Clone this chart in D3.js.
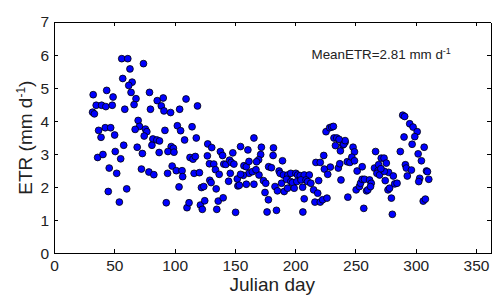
<!DOCTYPE html>
<html>
<head>
<meta charset="utf-8">
<script src="https://d3js.org/d3.v7.min.js"></script>
<style>
  body { margin: 0; background: #fff; }
  svg { display: block; font-family: Arial, "Liberation Sans", sans-serif; }
</style>
</head>
<body>
<div id="chart"></div>
<script>
// Julian day of each observation
const julianDay = [
  32.5, 32, 33.5, 35, 39.5, 43.7, 43, 48.3, 49, 37, 39, 42.5, 47, 50.3,
  56.2, 61.2, 63, 57, 64.8, 62, 63.9, 68, 66.4, 58.7, 74.2, 79.2, 80, 85.6, 90.6, 89, 91.2, 96.7,
  109.5, 104.2, 119, 69.8, 70.9, 67.3, 75.8, 77, 74.8, 82, 85.3, 87.5, 92, 102.3, 105, 114.5, 108.3, 118,
  57.8, 69, 81.2, 97.2, 99, 127.5, 130.8, 154.7, 160.8,
  36.2, 40.6, 45.8, 45, 50.8, 52, 55.3, 54.2, 60.3, 73.3, 72.5, 78.7, 82.8, 87.2, 94.2, 93.1, 94.5, 99.5, 98,
  101.4, 103.7, 106.2, 106.7, 110.3, 112, 112.8, 115.3, 117.2, 116.2, 120.6, 122.3, 124.2, 121.4, 123, 125,
  127.2, 128.9, 129.2, 130.3, 132.5, 133.9, 134.5, 135, 136.2, 137, 138, 139.8, 140.3, 140.8, 142.5, 144.8,
  145.6, 147, 146.2, 148.3, 149.2, 150.6, 152, 152.5, 153.7, 157.5, 159.5, 159.5, 161.7, 161.7, 157,
  165.8, 172, 182, 171.4, 169.7, 168, 181.7, 189.5, 154.7, 164.5, 170, 173.7, 175.6, 165.8, 178, 180.3,
  175, 177.8, 176.7, 184.5, 183.3, 185.3, 186.7, 187.5, 188.7, 190.9, 190.3, 194, 196.4, 200.6, 202, 204.2,
  207.5, 211.7, 192.8, 196.4, 197.8, 201.4, 193.7, 199.2, 206.2, 204.8, 209, 210.3, 213, 215.3, 218.7, 216.4,
  220.8, 222.8, 226.4, 207.5, 206.4, 219.5, 217.2, 220.8, 223.7, 224.2, 227, 229.2, 167.5,
  225.6, 228.6, 230.3, 231.7, 232.2, 234.5, 233.4, 237.5, 239.5, 241.4, 240.3, 241.4, 236.4, 235.8, 237, 238,
  243.7, 243.2, 245.4, 248, 249.2, 247, 249.2, 251.4, 255.6, 250.6, 253.3, 254.2, 255.6, 257.5, 256.9, 259.2,
  260.3, 261.7, 263.1, 262.5, 266.7, 265.8, 268.7, 267.8, 270, 269.2, 271.4, 273.7, 275.6, 277.5, 274.7, 277,
  278.3, 279.8, 280.6, 281.4, 282.5, 284.5, 287.2, 291.4, 292.2, 293, 296.4, 297, 302, 307, 304.7, 303.3,
  302.5, 308.9, 309.7, 310.8, 306.2, 308, 289.2, 290.8, 295, 297.8, 301.2, 290.3, 299.2, 273.9, 271.1
];
// daily ETR, mm d-1
const etr = [
  4.80, 4.27, 4.22, 4.48, 4.48, 4.93, 4.44, 4.48, 4.73, 3.72, 3.51, 3.80, 3.80, 3.58,
  5.89, 5.89, 5.58, 5.29, 5.18, 5.08, 4.87, 4.68, 4.50, 4.36, 5.74, 4.87, 4.36, 4.62, 4.70, 4.46, 4.31, 4.26,
  4.67, 4.36, 4.46, 4.02, 3.84, 3.75, 3.76, 3.68, 3.55, 3.46, 3.43, 3.40, 3.72, 3.86, 3.71, 3.83, 3.43, 3.49,
  3.27, 3.21, 3.27, 3.23, 3.18, 3.31, 3.20, 3.23, 3.13,
  2.90, 2.99, 2.58, 1.87, 3.08, 2.42, 2.86, 1.55, 1.95, 3.02, 2.55, 2.46, 2.38, 3.05, 2.42, 1.53, 3.08, 3.06, 2.64,
  2.50, 2.01, 2.50, 2.32, 1.38, 1.53, 2.90, 2.85, 2.93, 2.42, 2.44, 1.99, 2.02, 1.46, 1.33, 1.59,
  2.95, 2.71, 2.21, 2.14, 2.70, 2.53, 1.95, 1.33, 1.58, 2.39, 3.08, 2.96, 1.68, 2.70, 2.69, 2.18,
  2.82, 2.75, 2.42, 3.04, 2.70, 1.24, 2.25, 2.04, 2.06, 2.65, 2.62, 2.09, 2.78, 2.42, 2.36,
  3.49, 3.21, 3.19, 2.99, 2.83, 2.77, 2.96, 2.80, 2.39, 2.47, 2.37, 2.20, 2.12, 2.09, 2.62, 2.59,
  1.84, 1.62, 1.25, 1.30, 2.02, 1.89, 2.49, 2.42, 2.12, 1.87, 2.37, 2.37, 2.42, 2.42, 2.37, 2.35,
  2.37, 2.37, 2.24, 2.17, 2.14, 2.17, 1.97, 1.97, 2.00, 2.22, 2.22, 2.17, 2.12, 1.92, 1.82, 1.55,
  1.55, 1.62, 1.67, 1.65, 1.25, 2.20, 2.75, 2.75, 2.96, 2.55, 2.39, 2.61, 2.53,
  3.68, 3.80, 3.82, 3.84, 3.49, 3.49, 3.26, 3.10, 3.28, 3.36, 3.30, 3.41, 3.45, 2.58, 2.71, 2.22,
  1.70, 2.77, 2.75, 3.21, 3.07, 2.91, 2.80, 2.49, 2.62, 1.92, 2.02, 2.12, 2.24, 2.24, 1.36, 1.89,
  1.92, 2.22, 2.12, 2.02, 3.08, 2.58, 2.50, 2.42, 2.37, 2.68, 2.88, 2.88, 2.73, 2.45, 2.20, 1.92,
  1.97, 1.67, 1.18, 2.34, 2.10, 2.12, 3.08, 2.68, 2.58, 2.34, 2.52, 3.30, 3.01, 3.21, 2.80, 2.27,
  2.17, 2.49, 2.47, 2.24, 1.58, 1.64, 4.18, 4.14, 3.92, 3.82, 3.68, 3.52, 3.53, 2.48, 2.56
];
const xTicks = [0, 50, 100, 150, 200, 250, 300, 350];
const yTicks = [0, 1, 2, 3, 4, 5, 6, 7];
const meanLabel = "MeanETR=2.81 mm d";

const width = 492, height = 296;
const margin = { top: 22, right: 1.5, bottom: 42.7, left: 54 };

const svg = d3.select("#chart").append("svg")
    .attr("width", width)
    .attr("height", height);

const x = d3.scaleLinear().domain([0, 362]).range([margin.left, width - margin.right]);
const y = d3.scaleLinear().domain([0, 7]).range([height - margin.bottom, margin.top]);

const points = julianDay.map((d, i) => ({ day: d, v: etr[i] }));

// markers
svg.append("g")
    .selectAll("circle")
    .data(points)
    .enter().append("circle")
    .attr("cx", d => x(d.day))
    .attr("cy", d => y(d.v))
    .attr("r", 3.4)
    .attr("fill", "#0000ff")
    .attr("stroke", "#000")
    .attr("stroke-width", 0.8);

// axes with inward ticks on all four sides
const tickLen = 4;
const fmt = d3.format("d");
const axBottom = svg.append("g")
    .attr("transform", `translate(0,${y(0)})`)
    .call(d3.axisBottom(x).tickValues(xTicks).tickFormat(fmt).tickSizeInner(-tickLen).tickSizeOuter(0).tickPadding(7));
const axTop = svg.append("g")
    .attr("transform", `translate(0,${y(7)})`)
    .call(d3.axisTop(x).tickValues(xTicks).tickSizeInner(-tickLen).tickSizeOuter(0).tickFormat(""));
const axLeft = svg.append("g")
    .attr("transform", `translate(${x(0)},0)`)
    .call(d3.axisLeft(y).tickValues(yTicks).tickFormat(fmt).tickSizeInner(-tickLen).tickSizeOuter(0).tickPadding(5));
const axRight = svg.append("g")
    .attr("transform", `translate(${x(362)},0)`)
    .call(d3.axisRight(y).tickValues(yTicks).tickSizeInner(-tickLen).tickSizeOuter(0).tickFormat(""));

[axBottom, axTop, axLeft, axRight].forEach(g => {
    g.select(".domain").attr("stroke", "#000").attr("stroke-width", 1);
    g.selectAll(".tick line").attr("stroke", "#000").attr("stroke-width", 1);
    g.selectAll(".tick text")
        .attr("fill", "#222")
        .style("font-family", "Arial, 'Liberation Sans', sans-serif")
        .style("font-size", "15.5px");
});
svg.selectAll(".tick line").attr("shape-rendering", "crispEdges");
svg.selectAll(".domain").attr("shape-rendering", "crispEdges");

// axis labels
svg.append("text")
    .attr("x", (x(0) + x(362)) / 2)
    .attr("y", 290.5)
    .attr("text-anchor", "middle")
    .attr("fill", "#222")
    .style("font-size", "19px")
    .text("Julian day");

const yl = svg.append("text")
    .attr("transform", `translate(32,${(y(0) + y(7)) / 2}) rotate(-90)`)
    .attr("text-anchor", "middle")
    .attr("fill", "#222")
    .style("font-size", "19px");
yl.append("tspan").text("ETR (mm d");
yl.append("tspan").attr("dy", -7).style("font-size", "12px").text("-1");
yl.append("tspan").attr("dy", 7).text(")");

// mean annotation
const mt = svg.append("text")
    .attr("x", 311.5)
    .attr("y", 59)
    .attr("fill", "#222")
    .style("font-size", "13.4px");
mt.append("tspan").text(meanLabel);
mt.append("tspan").attr("dy", -5).style("font-size", "9px").text("-1");
</script>
</body>
</html>
